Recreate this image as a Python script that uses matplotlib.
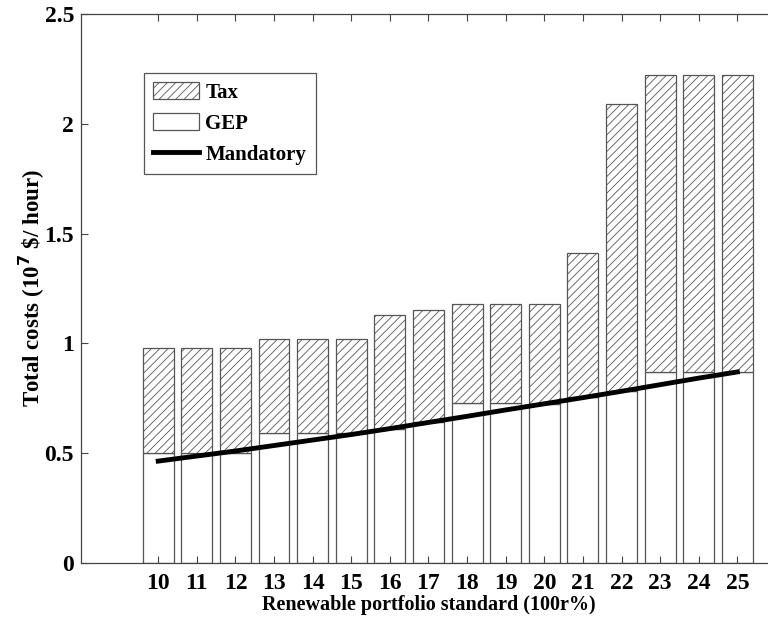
import matplotlib.pyplot as plt
import matplotlib as mpl
from matplotlib.patches import Patch
from matplotlib.lines import Line2D

rps = [10, 11, 12, 13, 14, 15, 16, 17, 18, 19, 20, 21, 22, 23, 24, 25]
gep = [0.50, 0.50, 0.50, 0.59, 0.59, 0.59, 0.61, 0.64, 0.73, 0.73, 0.725, 0.755, 0.785, 0.87, 0.87, 0.87]
total = [0.98, 0.98, 0.98, 1.02, 1.02, 1.02, 1.13, 1.15, 1.18, 1.18, 1.18, 1.41, 2.09, 2.22, 2.22, 2.22]
mandatory = [0.464, 0.487, 0.51, 0.535, 0.56, 0.585, 0.612, 0.64, 0.668, 0.697, 0.725, 0.753, 0.782, 0.812, 0.842, 0.87]

tax = [t - g for t, g in zip(total, gep)]

plt.rcParams['font.family'] = ['Liberation Serif', 'DejaVu Serif']
plt.rcParams['font.weight'] = 'bold'
plt.rcParams['hatch.linewidth'] = 0.6
plt.rcParams['hatch.color'] = '#666666'

fig = plt.figure(figsize=(7.68, 6.18), dpi=100)
ax = fig.add_axes([81 / 768, 55 / 618, 695 / 768, 549 / 618])

edge = '#555555'
ax.bar(rps, gep, width=0.8, color='white', edgecolor=edge, linewidth=0.9)
ax.bar(rps, tax, width=0.8, bottom=gep, color='white', edgecolor=edge,
       linewidth=0.9, hatch='////')
ax.plot(rps, mandatory, color='black', linewidth=3.5)

ax.set_xlim(8, 26)
ax.set_ylim(0, 2.5)
ax.set_xticks(rps)
ax.set_yticks([0, 0.5, 1, 1.5, 2, 2.5])
ax.set_yticklabels(['0', '0.5', '1', '1.5', '2', '2.5'])
ax.tick_params(direction='in', top=True, right=True, length=5, width=0.8,
               color='#444444', labelsize=17)
ax.tick_params(axis='y', pad=5)
ax.tick_params(axis='x', pad=7)
for lab in ax.get_xticklabels() + ax.get_yticklabels():
    lab.set_fontweight('bold')
for s in ax.spines.values():
    s.set_color('#444444')
    s.set_linewidth(0.9)

ax.set_xlabel('Renewable portfolio standard (100r%)', fontsize=14.5, fontweight='bold', labelpad=1)
ax.set_ylabel('Total costs (10$^{7}$ \\$/ hour)', fontsize=16.5, fontweight='bold', labelpad=-2)

handles = [Patch(facecolor='white', edgecolor=edge, hatch='////', linewidth=0.9),
           Patch(facecolor='white', edgecolor=edge, linewidth=0.9),
           Line2D([], [], color='black', linewidth=3.5)]
labels = ['Tax', 'GEP', 'Mandatory']
leg = ax.legend(handles, labels,
                loc='upper left', bbox_to_anchor=(144 / 768, 1 - 73 / 618),
                bbox_transform=fig.transFigure, borderaxespad=0,
                fancybox=False, framealpha=1, edgecolor='#555555',
                prop={'size': 15, 'weight': 'bold'}, handlelength=2.2,
                handleheight=0.85, labelspacing=0.5, handletextpad=0.3,
                borderpad=0.45)
leg.get_frame().set_linewidth(0.9)

fig.savefig('out.png', dpi=100)
